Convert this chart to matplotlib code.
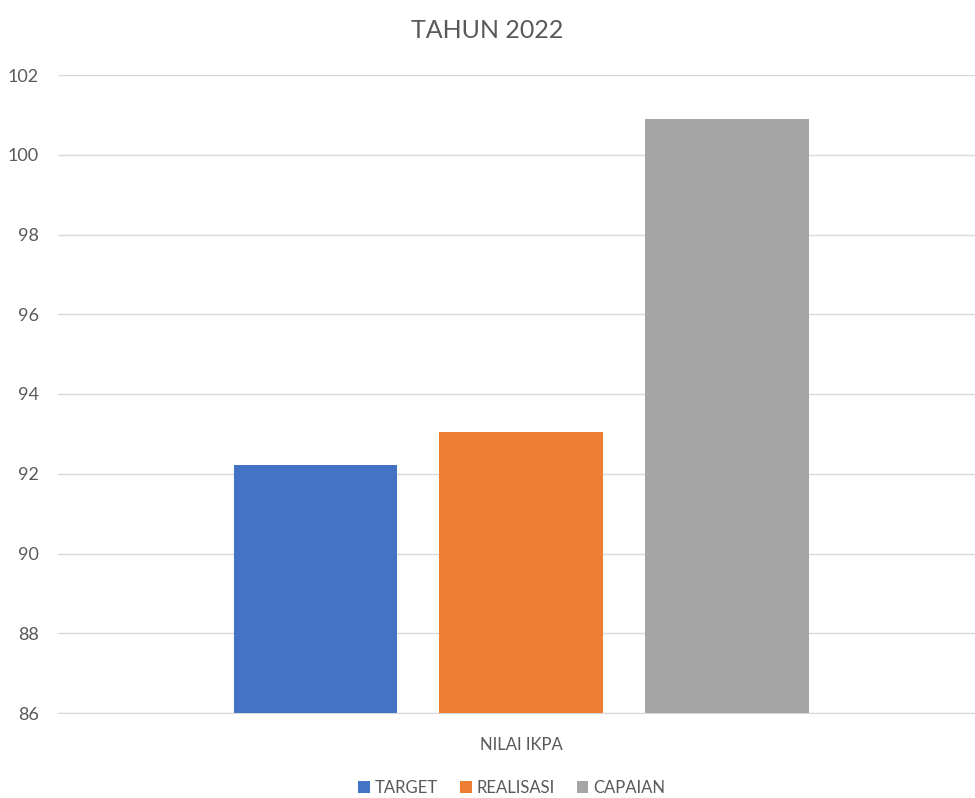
import matplotlib.pyplot as plt
import numpy as np

CATEGORY = "NILAI IKPA"
SERIES = ["TARGET", "REALISASI", "CAPAIAN"]
VALUES = [92.22, 93.05, 100.9]
COLORS = ["#4472C4", "#ED7D31", "#A5A5A5"]
YTICKS = [86, 88, 90, 92, 94, 96, 98, 100, 102]
TEXT_COLOR = "#595959"
GRID_COLOR = "#D9D9D9"

plt.rcParams['font.family'] = ['Liberation Sans Narrow', 'Lato', 'DejaVu Sans']

fig = plt.figure(figsize=(9.75, 7.98), dpi=100)
ax = fig.add_axes([58 / 975, 1 - 713 / 798, 917 / 975, (713 - 75) / 798])

width = 0.178
step = 0.2246
offsets = (np.arange(len(SERIES)) - 1) * step
for off, val, col, name in zip(offsets, VALUES, COLORS, SERIES):
    ax.bar(off, val - YTICKS[0], bottom=YTICKS[0], width=width, color=col,
           label=name, zorder=3)

ax.set_xlim(-0.505, 0.495)
ax.set_ylim(YTICKS[0], YTICKS[-1])
ax.set_yticks(YTICKS)
ax.set_yticklabels([str(t) for t in YTICKS], fontsize=13, color=TEXT_COLOR)
ax.set_xticks([0])
ax.set_xticklabels([CATEGORY], fontsize=12, color=TEXT_COLOR)
ax.tick_params(axis='both', length=0, pad=14)
ax.tick_params(axis='x', pad=17)
ax.grid(axis='y', color=GRID_COLOR, linewidth=1, zorder=0)
for s in ["top", "right", "left"]:
    ax.spines[s].set_visible(False)
ax.spines["bottom"].set_color(GRID_COLOR)

fig.text(0.5, 1 - 30 / 798, "TAHUN 2022", ha='center', va='center',
         fontsize=18, color=TEXT_COLOR)

fig.legend(loc='center', bbox_to_anchor=(0.525, 1 - 788 / 798), ncol=3,
           frameon=False, fontsize=12, handlelength=0.7, handleheight=0.7,
           handletextpad=0.3, columnspacing=1.3, labelcolor=TEXT_COLOR)

fig.savefig("out.png", dpi=100)
